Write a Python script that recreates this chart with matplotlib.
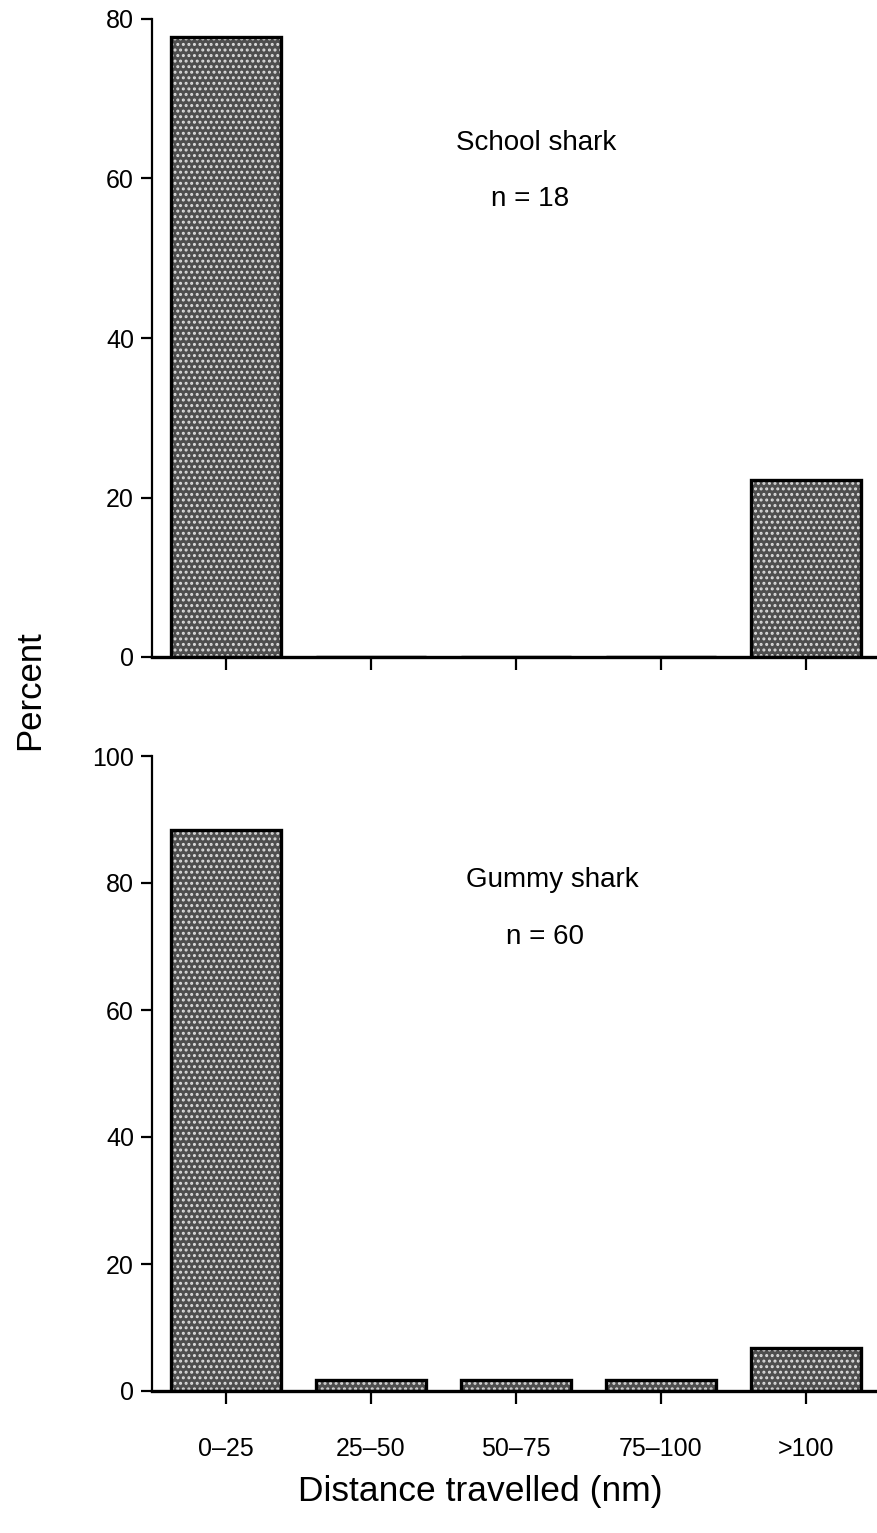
import matplotlib
matplotlib.use("Agg")
import matplotlib.pyplot as plt

plt.rcParams['font.family'] = ['Liberation Sans', 'DejaVu Sans']
plt.rcParams['hatch.linewidth'] = 1.4

categories = ['0\u201325', '25\u201350', '50\u201375', '75\u2013100', '>100']
school_pct = [77.8, 0, 0, 0, 22.2]
gummy_pct = [88.3, 1.7, 1.7, 1.7, 6.7]
school_label = 'School shark'
school_n = 'n = 18'
gummy_label = 'Gummy shark'
gummy_n = 'n = 60'

W, H = 877, 1533
fig = plt.figure(figsize=(W / 100, H / 100), dpi=100)

ax1 = fig.add_axes([152 / W, 1 - 657 / H, 1 - 152 / W, (657 - 19) / H])
ax2 = fig.add_axes([152 / W, 1 - 1391 / H, 1 - 152 / W, (1391 - 756) / H])

x = list(range(len(categories)))


def draw_panel(ax, vals, ymax, yticks):
    # stippled fill, then a black outline on top
    ax.bar(x, vals, width=0.76, color='#4e4e4e', edgecolor='#dcdcdc',
           linewidth=0, hatch='...', zorder=2)
    ax.bar(x, vals, width=0.76, color='none', edgecolor='black',
           linewidth=2.4, zorder=3)
    ax.set_xlim(-0.51, 4.49)
    ax.set_ylim(0, ymax)
    ax.set_yticks(yticks)
    for s in ['top', 'right']:
        ax.spines[s].set_visible(False)
    ax.spines['left'].set_linewidth(1.6)
    ax.spines['bottom'].set_linewidth(2.4)
    ax.tick_params(axis='y', direction='out', length=8, width=1.6,
                   labelsize=18, pad=5)
    ax.tick_params(axis='x', direction='out', length=9, width=1.6,
                   labelsize=18, pad=24)
    ax.set_xticks(x)


draw_panel(ax1, school_pct, 80, [0, 20, 40, 60, 80])
ax1.set_xticklabels([])
ax1.text(2.14, 64.4, school_label, ha='center', va='center', fontsize=20)
ax1.text(2.10, 57.4, school_n, ha='center', va='center', fontsize=20)

draw_panel(ax2, gummy_pct, 100, [0, 20, 40, 60, 80, 100])
ax2.set_xticklabels(categories)
ax2.text(2.25, 80.5, gummy_label, ha='center', va='center', fontsize=20)
ax2.text(2.20, 71.5, gummy_n, ha='center', va='center', fontsize=20)

fig.text(30 / W, 1 - 690 / H, 'Percent', rotation=90, ha='center',
         va='center', fontsize=25)
fig.text(480 / W, 1 - 1492 / H, 'Distance travelled (nm)', ha='center',
         va='center', fontsize=25.5)

fig.savefig('out.png', dpi=100)
